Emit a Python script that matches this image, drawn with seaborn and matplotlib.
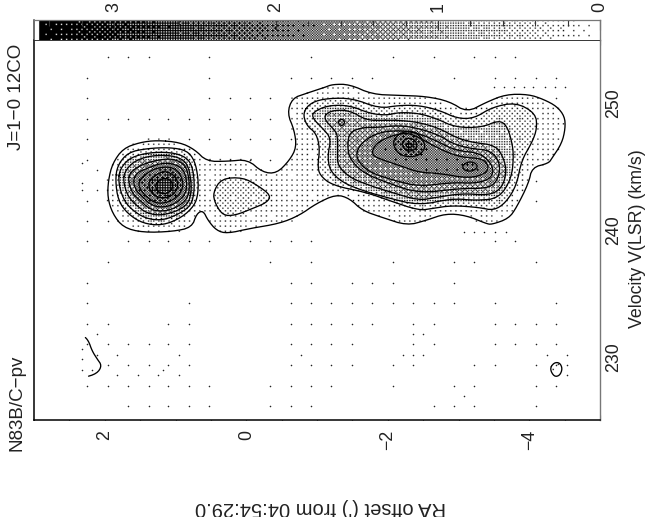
import matplotlib
matplotlib.use('Agg')
import matplotlib.pyplot as plt
from matplotlib.path import Path
from matplotlib.ticker import MultipleLocator
import numpy as np
import pandas as pd
import seaborn as sns

# Contours: (RA offset in arcmin, velocity in km/s)
outer = [(1.26,247.08),(0.94,246.92),(0.73,246.36),(0.56,245.42),(0.27,245.42),(-0.02,245.57),(-0.23,244.55),
         (-0.43,244.47),(-0.61,245.49),(-0.71,246.52),(-0.68,247.87),(-0.58,249.21),(-0.65,250.40),(-0.85,250.79),
         (-1.11,251.26),(-1.22,251.50),(-1.46,251.50),(-1.78,250.71),(-2.16,250.63),(-2.54,250.55),(-2.87,250.16),
         (-3.12,249.29),(-3.39,250.08),(-3.67,250.71),(-3.99,250.71),(-4.20,250.32),(-4.39,249.76),(-4.50,248.97),
         (-4.51,248.02),(-4.46,246.84),(-4.32,245.65),(-4.27,245.26),(-4.04,244.94),(-3.99,243.68),(-3.82,241.78),
         (-3.71,240.91),(-3.47,240.43),(-3.39,240.51),(-3.11,241.15),(-2.82,241.30),(-2.54,240.75),(-2.27,240.36),
         (-1.92,240.99),(-1.64,241.54),(-1.46,242.49),(-1.27,242.81),(-0.99,242.09),(-0.75,241.15),(-0.47,240.51),
         (-0.05,240.12),(0.27,239.72),(0.42,239.96),(0.54,240.75),(0.61,241.54),(0.70,241.30),(0.77,240.20),
         (1.04,239.88),(1.46,239.80),(1.74,240.20),(1.89,241.30),(1.96,242.57),(1.95,243.91),(1.89,245.26),
         (1.74,246.44),(1.50,246.92)]
middle = [(0.35,244.07),(0.05,244.15),(-0.16,243.52),(-0.35,242.73),(-0.29,242.17),(-0.09,241.70),(0.16,241.15),
          (0.33,241.15),(0.44,242.09),(0.47,242.96)]

right_2 = [(-0.80,249.29),(-0.92,250.08),(-1.15,250.40),(-1.50,250.40),(-1.88,249.60),(-2.16,249.84),(-2.44,249.84),
           (-2.73,249.45),(-2.98,248.81),(-3.22,248.81),(-3.47,249.68),(-3.81,250.08),(-4.09,249.21),(-4.11,248.02),
           (-4.04,246.92),(-3.89,245.49),(-3.82,243.52),(-3.67,242.17),(-3.50,241.54),(-3.29,241.78),(-2.91,241.94),
           (-2.63,241.70),(-2.44,241.54),(-2.02,242.33),(-1.70,242.96),(-1.22,243.52),(-1.04,244.31),(-1.01,245.10),
           (-1.04,246.44),(-0.99,247.63),(-0.85,248.26)]
right_3 = [(-0.94,249.29),(-1.15,249.84),(-1.46,249.84),(-1.74,249.21),(-1.98,249.05),(-2.16,249.29),(-2.44,249.21),
           (-2.68,248.81),(-2.96,248.10),(-3.33,248.10),(-3.57,248.66),(-3.68,248.26),(-3.75,247.08),(-3.78,245.89),
           (-3.75,244.07),(-3.57,242.49),(-3.25,242.33),(-2.91,242.49),(-2.44,241.94),(-1.98,242.57),(-1.64,243.12),
           (-1.36,243.75),(-1.18,244.70),(-1.15,245.89),(-1.20,247.23),(-1.08,248.02),(-0.94,248.81)]
right_4 = [(-1.08,248.89),(-1.20,249.45),(-1.46,249.45),(-1.70,248.66),(-1.95,248.66),(-2.16,248.66),(-2.44,248.50),
           (-2.73,248.02),(-2.96,247.31),(-3.19,246.92),(-3.53,246.68),(-3.64,245.65),(-3.68,244.55),(-3.61,243.28),
           (-3.43,242.73),(-3.05,242.89),(-2.68,242.57),(-2.44,242.33),(-2.06,242.96),(-1.74,243.52),(-1.46,244.15),
           (-1.29,245.10),(-1.29,246.13),(-1.29,247.47),(-1.25,247.87)]
right_5 = [(-1.46,247.71),(-1.64,248.10),(-1.88,248.10),(-2.16,248.26),(-2.44,248.02),(-2.73,247.47),(-2.91,246.84),
           (-3.15,246.44),(-3.47,246.28),(-3.60,245.10),(-3.54,243.75),(-3.39,243.28),(-3.01,243.28),(-2.44,242.89),
           (-1.98,243.75),(-1.64,244.55),(-1.46,245.65),(-1.43,246.68)]
right_6 = [(-1.67,247.08),(-1.88,247.71),(-2.16,247.87),(-2.44,247.63),(-2.73,246.92),(-2.96,246.28),(-3.33,246.05),
           (-3.50,244.94),(-3.46,244.07),(-3.25,243.68),(-2.91,243.75),(-2.44,243.44),(-2.09,243.91),(-1.74,244.55),
           (-1.57,245.49),(-1.56,246.28)]
right_7 = [(-1.81,246.68),(-1.98,247.31),(-2.26,247.71),(-2.44,247.31),(-2.77,246.28),(-3.05,245.73),(-3.33,245.65),
           (-3.43,245.10),(-3.39,244.47),(-3.15,244.07),(-2.73,244.47),(-2.44,244.55),(-2.16,245.10),(-1.95,245.49),
           (-1.77,245.89)]
peak_east = [(-3.05,245.10),(-3.15,245.42),(-3.25,245.26),(-3.27,244.94),(-3.19,244.62),(-3.08,244.70)]
peak_1 = [(-2.06,246.92),(-2.16,247.63),(-2.35,247.87),(-2.49,247.23),(-2.54,246.44),(-2.40,245.73),(-2.16,245.89)]
peak_2 = [(-2.19,246.84),(-2.27,247.31),(-2.40,247.08),(-2.42,246.44),(-2.27,246.13)]
peak_3 = [(-2.25,246.68),(-2.30,246.92),(-2.36,246.68),(-2.30,246.44)]
knot = [(-1.29,248.50),(-1.35,248.81),(-1.40,248.50),(-1.35,248.18)]
islet = [(-4.29,229.05),(-4.35,229.53),(-4.43,229.53),(-4.47,229.05),(-4.43,228.50),(-4.35,228.42)]

left_2 = [(1.85,243.91),(1.82,245.10),(1.67,246.13),(1.40,246.44),(1.08,246.52),(0.84,246.28),(0.73,245.49),(0.68,244.15),
          (0.68,242.89),(0.73,241.94),(0.91,240.99),(1.18,240.36),(1.46,240.51),(1.68,241.30),(1.81,242.33)]
left_3 = [(1.81,243.91),(1.78,244.86),(1.64,245.73),(1.36,246.13),(1.05,246.13),(0.84,245.73),(0.75,244.86),(0.73,243.12),
          (0.78,241.94),(0.94,241.30),(1.18,240.75),(1.43,240.91),(1.64,241.70),(1.75,242.57)]
left_4 = [(1.74,243.91),(1.71,244.70),(1.57,245.49),(1.33,245.89),(1.05,245.89),(0.87,245.49),(0.80,244.70),(0.77,243.12),
          (0.82,242.09),(0.96,241.54),(1.19,241.15),(1.40,241.30),(1.57,242.02),(1.68,242.73)]
left_5 = [(1.67,243.91),(1.64,244.55),(1.50,245.10),(1.29,245.49),(1.05,245.65),(0.89,245.26),(0.82,244.55),(0.80,243.12),
          (0.85,242.33),(1.01,241.70),(1.19,241.46),(1.36,241.62),(1.50,242.33),(1.61,242.89)]
left_6 = [(1.60,243.91),(1.54,244.55),(1.40,244.86),(1.22,245.26),(1.05,245.26),(0.92,244.94),(0.85,244.31),(0.84,243.12),
          (0.91,242.49),(1.05,241.94),(1.22,241.78),(1.36,242.02),(1.47,242.65),(1.56,243.12)]
left_7 = [(1.53,243.75),(1.43,244.39),(1.29,244.86),(1.08,245.02),(0.94,244.55),(0.88,243.52),(0.96,242.65),(1.11,242.17),
          (1.27,242.09),(1.40,242.57),(1.49,243.12)]
left_8 = [(1.39,243.75),(1.29,244.31),(1.15,244.70),(0.99,244.23),(0.96,243.36),(1.05,242.65),(1.22,242.49),(1.35,242.96)]
left_9 = [(1.29,243.60),(1.18,244.15),(1.05,243.91),(1.04,243.20),(1.15,242.81),(1.26,243.04)]

# open contour at the lower left edge of the map
south_arc = [(2.30,231.66),(2.23,231.26),(2.18,230.47),(2.11,229.84),(2.04,229.29),(2.11,228.66),(2.30,228.34)]

# closed contours with the grey level read inside each, lowest first
closed_rings = [(outer, 0.2), (middle, 0.42), (right_2, 0.45), (left_2, 0.45), (islet, 0.1),
                (right_3, 0.8), (left_3, 0.8), (right_4, 1.15), (left_4, 1.15), (knot, 1.3),
                (right_5, 1.35), (left_5, 1.45), (right_6, 1.55), (left_6, 1.75), (right_7, 1.8),
                (left_7, 2.05), (peak_1, 2.1), (peak_east, 2.1), (peak_2, 2.3), (left_8, 2.35),
                (peak_3, 2.5), (left_9, 2.65)]

# faint emission outside the contours: sparse dots on the map's coarse lattice
faint_offset = [2.25,1.96,1.67,1.38,1.10,0.81,0.52,0.23,-0.05,-0.34,-0.63,-0.91,-1.20,-1.49,-1.78,-2.07,-2.36,-2.65,
                -2.93,-3.22,-3.51,-3.80,-4.09,-4.38]
faint_velocity = [253.64,252.02,250.40,248.80,247.20,245.55,243.90,242.30,240.70,239.10,237.45,235.80,234.20,232.60,
                  231.00,229.35,227.70,226.10]
faint_columns = [[1,2,3,6,11,15,17,19,20,21],
                 [0,6,10,11,12,13,14,18,20,21,22,23],
                 [0,6,7,8,9,23],
                 [0,1,2,3,4,5,6,7,8,9],
                 [0,5,6,7,8,9,10],
                 [0,6,7,8,9],
                 [22],
                 [0,22],
                 [0,1],
                 [0,2,3,4,5,6,8,9,10,11,20,21],
                 [1,9,11,15,18,19,22],
                 [0,10,11,13,14,15,18],
                 [0,5,10,11,12,13,14,15,16,17,18,20,23],
                 [0,1,4,5,10,11,12,13,14,16,17,20,21,22,23],
                 [0,1,2,3,4,5,10,11,12,13,16,17,20,21,22,23],
                 [1,2,3,4,5,10,11,12,13,15,16,19,20,22,23],
                 [0,1,2,3,4,5,6,9,10,11,12,15,18,19,22,23],
                 [2,3,4,5,6,9,10,11,17,18,19,22]]
extra_offset = [2.32,2.32,2.32,2.18,2.11,2.11,1.82,1.82,1.53,1.25,0.95,1.18,0.95,-0.78,-2.36,-2.50,-2.22,-2.36,-2.50,
                -3.08,-4.25,-4.53,-4.53,-4.53,2.32,2.11,2.11,2.32,2.32,
                -3.50,-3.64,-3.78,-3.92,-4.06,-4.22,-4.36,-4.50,-3.08,-3.22,-3.36,-3.51,-3.67]
extra_velocity = [230.63,229.84,228.97,228.97,231.82,230.16,230.16,228.58,228.58,228.58,228.58,228.97,230.16,230.16,
                  231.82,231.82,230.16,230.16,230.16,226.92,230.16,230.16,229.37,228.58,245.26,244.70,243.12,243.68,
                  243.12,251.26,251.26,251.26,251.26,251.26,251.26,251.26,251.26,239.88,239.88,239.88,239.88,239.88]

wedge_ticks = [3, 2, 1, 0]
offset_ticks = [2, 0, -2, -4]
velocity_ticks = [230, 240, 250]
offset_limits = (3, -5)
velocity_limits = (225, 255)
wedge_limits = (3.494, 0)
wedge_top = 3.47
peak_value = 3.5


def bayer(size):
    if size == 1:
        return np.zeros((1, 1))
    half = bayer(size // 2)
    return np.block([[4 * half, 4 * half + 2], [4 * half + 3, 4 * half + 1]])


def stipple(values, row_shift, col_shift):
    # ordered dither, like the grey scale of the original plot device
    rows, cols = np.indices(values.shape)
    matrix = (bayer(16) + 0.5) / 256 * peak_value
    return values > matrix[(rows + row_shift) % 16, (cols + col_shift) % 16]


def smooth(values, width=5):
    kernel = np.ones(width) / width
    values = np.apply_along_axis(np.convolve, 0, values, kernel, mode='same')
    return np.apply_along_axis(np.convolve, 1, values, kernel, mode='same')


def round_corners(ring, closed=True, passes=2):
    # corner cutting so the contour outline does not look polygonal
    pts = np.array(ring)
    for _ in range(passes):
        nxt = np.roll(pts, -1, axis=0) if closed else pts[1:]
        cur = pts if closed else pts[:-1]
        cut = np.empty((2 * len(cur), 2))
        cut[0::2] = 0.75 * cur + 0.25 * nxt
        cut[1::2] = 0.25 * cur + 0.75 * nxt
        pts = cut
    return pts


sns.set_theme(style='ticks')
plt.rcParams['font.family'] = ['Liberation Sans', 'DejaVu Sans']
plt.rcParams['font.size'] = 12.8

fig = plt.figure(figsize=(6.49, 5.17), dpi=100)
ax = fig.add_axes([34 / 649, 1 - 420 / 517, 566 / 649, 380 / 517])
ax_wedge = fig.add_axes([34 / 649, 1 - 40 / 517, 566 / 649, 20 / 517])

# intensity field from the nested contours, sampled on the device grid
grid_x, grid_y = np.meshgrid(np.linspace(offset_limits[0], offset_limits[1], 442),
                             np.linspace(velocity_limits[1], velocity_limits[0], 297))
grid_points = np.column_stack([grid_x.ravel(), grid_y.ravel()])
field = np.zeros(grid_x.shape)
for ring, level in closed_rings:
    inside = Path(round_corners(ring)).contains_points(grid_points).reshape(grid_x.shape)
    field[inside] = level
field = smooth(field)

ax.imshow(stipple(field, 3, 7), extent=(offset_limits[0], offset_limits[1], velocity_limits[0], velocity_limits[1]),
          aspect='auto', cmap='gray_r', vmin=0, vmax=1, interpolation='bilinear', zorder=1)

# contours
contour_rows = []
for ring_id, (ring, level) in enumerate(closed_rings):
    rounded = round_corners(ring)
    for x, y in np.vstack([rounded, rounded[:1]]):
        contour_rows.append([ring_id, x, y])
for x, y in round_corners(south_arc, closed=False):
    contour_rows.append([len(closed_rings), x, y])
contours = pd.DataFrame(contour_rows, columns=['ring', 'offset', 'velocity'])
sns.lineplot(data=contours, x='offset', y='velocity', units='ring', estimator=None, sort=False,
             color='black', linewidth=0.95, legend=False, ax=ax, zorder=3)

# faint dots
faint_rows = [[faint_offset[c], v] for v, columns in zip(faint_velocity, faint_columns) for c in columns]
faint_rows += [[x, y] for x, y in zip(extra_offset, extra_velocity)]
faint = pd.DataFrame(faint_rows, columns=['offset', 'velocity'])
sns.scatterplot(data=faint, x='offset', y='velocity', s=1.3, color='#222222', linewidth=0, legend=False, ax=ax, zorder=2)

ax.set_xlim(*offset_limits)
ax.set_ylim(*velocity_limits)
ax.set_xlabel('')
ax.set_ylabel('')
ax.set_xticks(offset_ticks)
ax.set_yticks(velocity_ticks)
ax.xaxis.set_minor_locator(MultipleLocator(0.5))
ax.yaxis.set_minor_locator(MultipleLocator(2))
ax.tick_params(axis='x', which='both', direction='in', top=True, bottom=True, width=0.8, color='black')
ax.tick_params(axis='x', which='major', length=8, labelrotation=90, pad=7, labelsize=12.8, labelcolor='#222222')
ax.tick_params(axis='x', which='minor', length=3.8)
ax.tick_params(axis='y', which='both', direction='in', left=True, right=True, labelleft=False, labelright=True,
               width=0.8, color='#444444')
ax.tick_params(axis='y', which='major', length=7.5, labelrotation=90, pad=4, labelsize=12.8, labelcolor='#222222')
ax.tick_params(axis='y', which='minor', length=3.2)
for label in ax.get_yticklabels():
    label.set_verticalalignment('center')
for side in ['left', 'top', 'bottom']:
    ax.spines[side].set_linewidth(1.1)
    ax.spines[side].set_color('black')
ax.spines['right'].set_linewidth(1.0)
ax.spines['right'].set_color('#777777')

# grey scale wedge
wedge_values = np.linspace(wedge_limits[0], wedge_limits[1], 442)
wedge_values = np.where(wedge_values > wedge_top, 0, wedge_values)
wedge_field = np.tile(wedge_values, (16, 1))
ax_wedge.imshow(stipple(wedge_field, 12, 7), extent=(wedge_limits[0], wedge_limits[1], 0, 1), aspect='auto',
                cmap='gray_r', vmin=0, vmax=1, interpolation='bilinear')
ax_wedge.set_xlim(*wedge_limits)
ax_wedge.set_ylim(0, 1)
ax_wedge.set_yticks([])
ax_wedge.set_xticks(wedge_ticks)
ax_wedge.xaxis.set_minor_locator(MultipleLocator(0.2))
ax_wedge.tick_params(axis='x', which='both', direction='in', top=True, bottom=False, labelbottom=False, labeltop=True,
                     width=0.8, color='#333333')
ax_wedge.tick_params(axis='x', which='major', length=7, labelrotation=90, pad=6, labelsize=12.8, labelcolor='#222222')
ax_wedge.tick_params(axis='x', which='minor', length=4)
ax_wedge.spines['bottom'].set_visible(False)
ax_wedge.spines['left'].set_linewidth(1.1)
ax_wedge.spines['left'].set_color('#444444')
ax_wedge.spines['top'].set_linewidth(0.9)
ax_wedge.spines['top'].set_color('#777777')
ax_wedge.spines['right'].set_linewidth(1.0)
ax_wedge.spines['right'].set_color('#777777')

# labels, in the plot's sideways layout
fig.text(17 / 649, 1 - 97 / 517, 'J=1\u22120 12CO', rotation=90, ha='center', va='center', fontsize=13.5, color='#222222')
fig.text(17 / 649, 1 - 403 / 517, 'N83B/C\u2212pv', rotation=90, ha='center', va='center', fontsize=13.5, color='#222222')
fig.text(637 / 649, 1 - 239 / 517, 'Velocity V(LSR) (km/s)', rotation=90, ha='center', va='center', fontsize=12.8,
         color='#222222')
fig.text(321 / 649, 1 - 507 / 517, "RA offset (') from 04:54:29.0", rotation=180, ha='center', va='center', fontsize=14.5,
         color='#222222')

fig.savefig('out.png', dpi=100)
